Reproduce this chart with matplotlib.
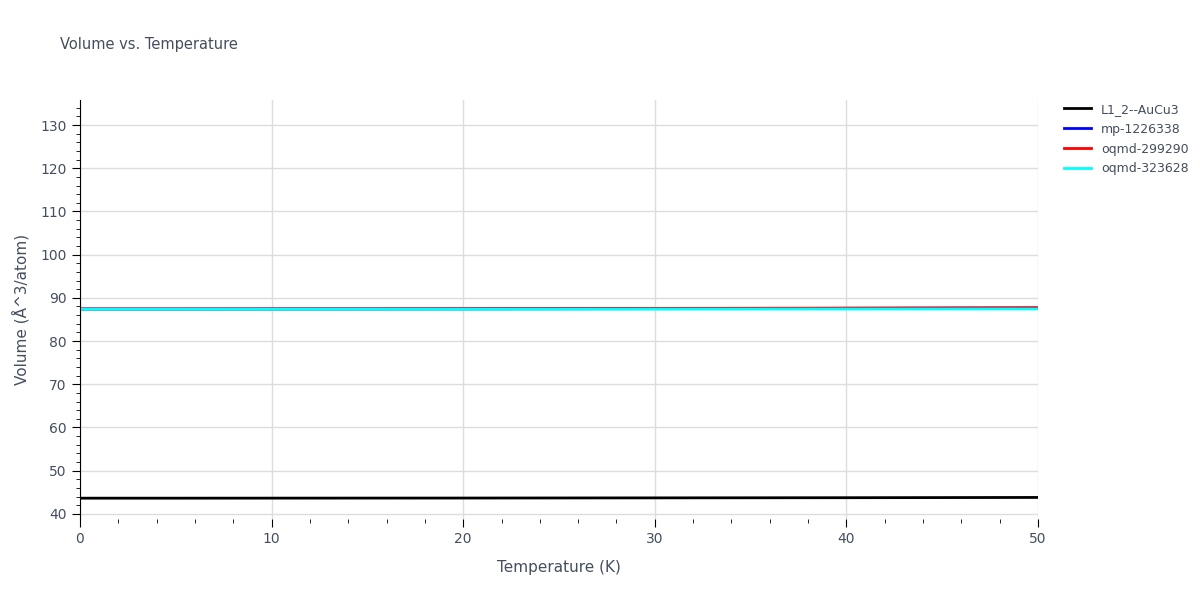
import matplotlib
matplotlib.use("Agg")
import matplotlib.pyplot as plt
from matplotlib.ticker import MultipleLocator

temps = [0, 5, 10, 15, 20, 25, 30, 35, 40, 45, 50]
l12 = [43.62, 43.62, 43.63, 43.64, 43.65, 43.67, 43.69, 43.71, 43.73, 43.76, 43.79]
mp = [87.40, 87.40, 87.41, 87.42, 87.44, 87.47, 87.50, 87.53, 87.57, 87.61, 87.65]
oq1 = [87.45, 87.45, 87.46, 87.47, 87.49, 87.52, 87.55, 87.59, 87.63, 87.67, 87.71]
oq2 = [87.35, 87.35, 87.35, 87.36, 87.36, 87.37, 87.38, 87.39, 87.40, 87.41, 87.42]

fig = plt.figure(figsize=(12, 6), dpi=100)
ax = fig.add_axes([80/1200, 1-519/600, (1038-80)/1200, (519-100)/600])
ax.plot(temps, l12, color="black", lw=2, label="L1_2--AuCu3")
ax.plot(temps, mp, color="blue", lw=2, label="mp-1226338")
ax.plot(temps, oq1, color="red", lw=2, label="oqmd-299290")
ax.plot(temps, oq2, color="cyan", lw=2, label="oqmd-323628")
ax.set_xlim(0, 50)
ax.set_ylim(38.8, 135.8)
ax.xaxis.set_major_locator(MultipleLocator(10))
ax.xaxis.set_minor_locator(MultipleLocator(2))
ax.yaxis.set_major_locator(MultipleLocator(10))
ax.yaxis.set_minor_locator(MultipleLocator(2))
ax.grid(True, which="major", color="#dddddd", lw=1)
for s in ["top", "right"]:
    ax.spines[s].set_visible(False)
ax.spines["bottom"].set_visible(False)
ax.spines["left"].set_color("black")
tc = "#444e5e"
ax.tick_params(axis="both", colors="black", labelcolor=tc, labelsize=10)
ax.tick_params(axis="y", which="major", length=6)
ax.tick_params(axis="y", which="minor", length=3)
ax.tick_params(axis="x", which="major", length=6)
ax.tick_params(axis="x", which="minor", length=3)
ax.set_xlabel("Temperature (K)", color=tc, fontsize=11, labelpad=10)
ax.set_ylabel("Volume (Å^3/atom)", color=tc, fontsize=11, labelpad=8)
fig.text(60/1200, 1-45/600, "Volume vs. Temperature", color=tc, fontsize=10.5, va="center")
leg = ax.legend(loc="upper left", bbox_to_anchor=(1.015, 1.02), frameon=False, fontsize=9, handlelength=2.2, labelspacing=0.55)
for t in leg.get_texts():
    t.set_color(tc)
fig.savefig("out.png")
